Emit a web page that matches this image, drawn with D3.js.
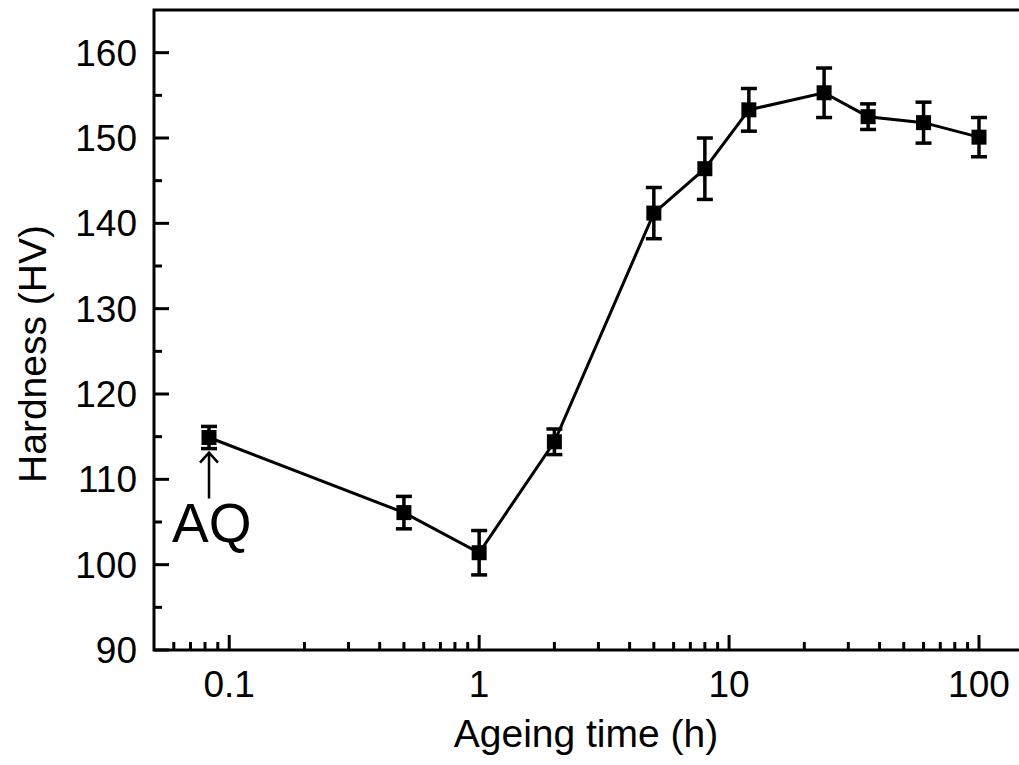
<!DOCTYPE html>
<html>
<head>
<meta charset="utf-8">
<script src="https://cdn.jsdelivr.net/npm/d3@7"></script>
<style>
  body { margin: 0; background: #fff; }
  svg { display: block; font-family: 'Liberation Sans', Arial, sans-serif; }
</style>
</head>
<body>
<svg width="1019" height="765"></svg>
<script>

// ageing time (h), hardness (HV) and error bar half-width
let times    = [0.083, 0.5, 1, 2, 5, 8, 12, 24, 36, 60, 100];
let hardness = [114.9, 106.1, 101.4, 114.4, 141.2, 146.4, 153.3, 155.3, 152.5, 151.8, 150.1];
let errors   = [1.3, 1.9, 2.6, 1.5, 3.0, 3.6, 2.5, 2.9, 1.5, 2.4, 2.3];

let xTicks = [0.1, 1, 10, 100];
let yTicks = [90, 100, 110, 120, 130, 140, 150, 160];

let data = times.map(function(t, i) {
  return { time: t, hv: hardness[i], err: errors[i] };
});

let svg = d3.select('svg');

let xScale = d3.scaleLog()
               .domain([0.05, 150])
               .range([154, 1023]);

let yScale = d3.scaleLinear()
               .domain([90, 165])
               .range([650, 10]);

let plotL = xScale(0.05), plotR = xScale(150);
let plotT = yScale(165), plotB = yScale(90);

// minor ticks
let xMinor = [];
[0.01, 0.1, 1, 10, 100].forEach(function(dec) {
  for (let k = 2; k <= 9; k++) {
    let v = dec * k;
    if (v > 0.05 && v < 150) xMinor.push(v);
  }
});
let yMinor = d3.range(95, 165, 10);

svg.append('g')
   .selectAll('line.xminor')
   .data(xMinor)
   .enter()
   .append('line')
   .attr('x1', d => xScale(d)).attr('x2', d => xScale(d))
   .attr('y1', plotB).attr('y2', plotB - 8)
   .attr('stroke', '#000').attr('stroke-width', 3);

svg.append('g')
   .selectAll('line.xmajor')
   .data(xTicks)
   .enter()
   .append('line')
   .attr('x1', d => xScale(d)).attr('x2', d => xScale(d))
   .attr('y1', plotB).attr('y2', plotB - 15)
   .attr('stroke', '#000').attr('stroke-width', 3);

svg.append('g')
   .selectAll('line.yminor')
   .data(yMinor)
   .enter()
   .append('line')
   .attr('x1', plotL).attr('x2', plotL + 8)
   .attr('y1', d => yScale(d)).attr('y2', d => yScale(d))
   .attr('stroke', '#000').attr('stroke-width', 3);

svg.append('g')
   .selectAll('line.ymajor')
   .data(yTicks)
   .enter()
   .append('line')
   .attr('x1', plotL).attr('x2', plotL + 15)
   .attr('y1', d => yScale(d)).attr('y2', d => yScale(d))
   .attr('stroke', '#000').attr('stroke-width', 3);

// frame
svg.append('rect')
   .attr('x', plotL).attr('y', plotT)
   .attr('width', plotR - plotL).attr('height', plotB - plotT)
   .attr('fill', 'none')
   .attr('stroke', '#000')
   .attr('stroke-width', 3);

// tick labels
svg.append('g')
   .selectAll('text.xlab')
   .data(xTicks)
   .enter()
   .append('text')
   .attr('x', d => xScale(d))
   .attr('y', 697)
   .attr('text-anchor', 'middle')
   .style('font-size', '37px')
   .text(d => d3.format('~g')(d));

svg.append('g')
   .selectAll('text.ylab')
   .data(yTicks)
   .enter()
   .append('text')
   .attr('x', 137)
   .attr('y', d => yScale(d) + 13)
   .attr('text-anchor', 'end')
   .style('font-size', '37px')
   .text(d => d);

// axis titles
svg.append('text')
   .attr('x', 586)
   .attr('y', 747)
   .attr('text-anchor', 'middle')
   .style('font-size', '39px')
   .text('Ageing time (h)');

svg.append('text')
   .attr('transform', 'translate(46,' + 354 + ') rotate(-90)')
   .attr('text-anchor', 'middle')
   .style('font-size', '39px')
   .text('Hardness (HV)');

// line
let hvLine = d3.line()
               .x(d => xScale(d.time))
               .y(d => yScale(d.hv));

svg.append('path')
   .attr('d', hvLine(data))
   .attr('fill', 'none')
   .attr('stroke', '#000')
   .attr('stroke-width', 3);

// error bars
let eb = svg.append('g')
            .selectAll('g.err')
            .data(data)
            .enter()
            .append('g')
            .attr('stroke', '#000')
            .attr('stroke-width', 3.5);

eb.append('line')
  .attr('x1', d => xScale(d.time)).attr('x2', d => xScale(d.time))
  .attr('y1', d => yScale(d.hv - d.err)).attr('y2', d => yScale(d.hv + d.err));
eb.append('line')
  .attr('x1', d => xScale(d.time) - 8).attr('x2', d => xScale(d.time) + 8)
  .attr('y1', d => yScale(d.hv + d.err)).attr('y2', d => yScale(d.hv + d.err));
eb.append('line')
  .attr('x1', d => xScale(d.time) - 8).attr('x2', d => xScale(d.time) + 8)
  .attr('y1', d => yScale(d.hv - d.err)).attr('y2', d => yScale(d.hv - d.err));

// markers
svg.append('g')
   .selectAll('rect.pt')
   .data(data)
   .enter()
   .append('rect')
   .attr('x', d => xScale(d.time) - 7.5)
   .attr('y', d => yScale(d.hv) - 7.5)
   .attr('width', 15)
   .attr('height', 15)
   .attr('fill', '#000');

// AQ annotation
let aq = data[0];
let ax = xScale(aq.time);
let ay = yScale(aq.hv - aq.err) + 4;
svg.append('path')
   .attr('d', 'M' + ax + ',' + (ay + 46) + 'V' + ay +
              'M' + (ax - 9) + ',' + (ay + 10) + 'L' + ax + ',' + ay + 'L' + (ax + 9) + ',' + (ay + 10))
   .attr('fill', 'none')
   .attr('stroke', '#000')
   .attr('stroke-width', 2.5);

svg.append('text')
   .attr('x', 172)
   .attr('y', 542)
   .style('font-size', '55px')
   .text('AQ');

</script>
</body>
</html>
